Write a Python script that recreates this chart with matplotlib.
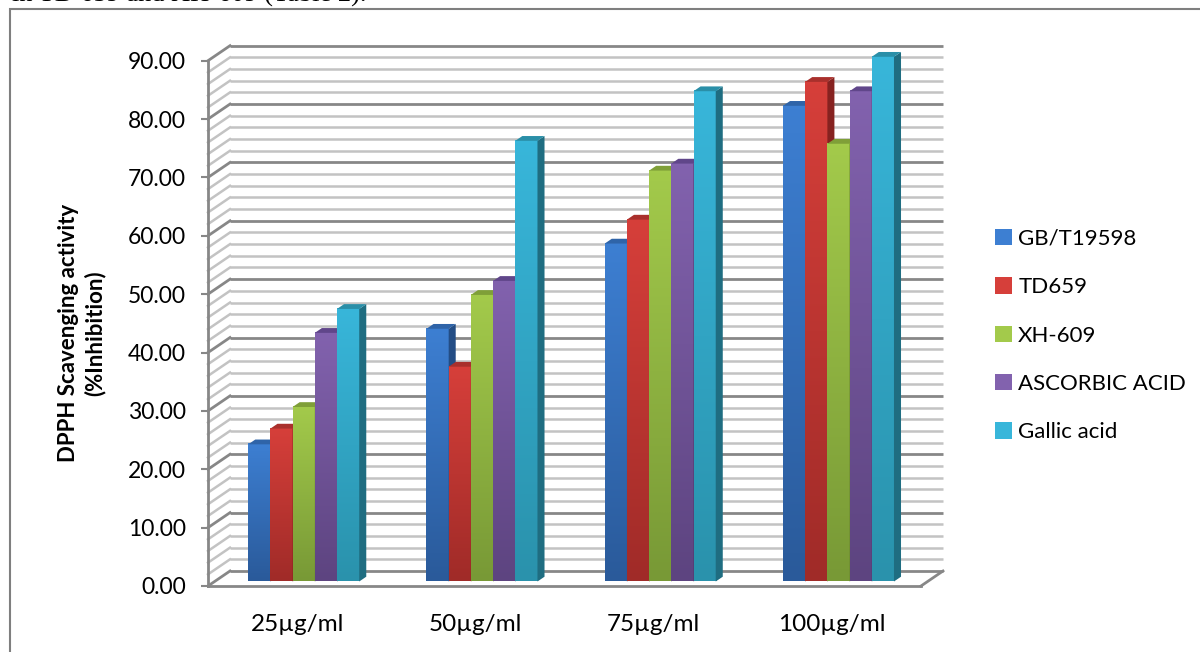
import numpy as np
import matplotlib.pyplot as plt
from matplotlib.patches import Polygon, Rectangle, Patch
from matplotlib.colors import LinearSegmentedColormap
from matplotlib.transforms import offset_copy

# DPPH radical scavenging, % inhibition per concentration
categories = ['25µg/ml', '50µg/ml', '75µg/ml', '100µg/ml']
series = ['GB/T19598', 'TD659', 'XH-609', 'ASCORBIC ACID', 'Gallic acid']
gbt19598 = [23.5, 43.3, 57.9, 81.5]
td659 = [26.2, 36.8, 62.0, 85.6]
xh609 = [29.9, 49.1, 70.4, 75.0]
ascorbic = [42.6, 51.5, 71.6, 84.0]
gallic = [46.7, 75.5, 84.0, 89.9]
yticks = np.arange(0, 91, 10)
values = [gbt19598, td659, xh609, ascorbic, gallic]

# (front light, front dark, side, top)
colors = [
    ('#3d7fd2', '#2a5a9a', '#234d85', '#2f64a8'),
    ('#d63f3a', '#a02b28', '#862220', '#a9302c'),
    ('#a3ca4b', '#789936', '#66842c', '#7f9f38'),
    ('#8262ae', '#5d4480', '#4d3869', '#60468a'),
    ('#38b6da', '#2a92ac', '#1f6d81', '#2a8fa8'),
]

FONT = 'Lato'
W, H = 1200, 652
fig = plt.figure(figsize=(W / 100, H / 100), dpi=100)
ax = fig.add_axes([208 / W, (H - 586) / H, 713 / W, (586 - 60.7) / H])
ax.set_xlim(-0.5, 3.5)
ax.set_ylim(0, 90)
ax.patch.set_alpha(0)

# depth of the box, pixels -> data units
DX, DY = 22, 15
px_x = 713 / 4
px_y = (586 - 60.7) / 90
ddx, ddy = DX / px_x, DY / px_y

# back wall and left wall gridlines
for v in np.arange(0, 91, 2):
    major = v % 10 == 0
    c = '#878787' if major else '#c3c3c3'
    lw = 2.0 if major else 1.8
    ax.plot([-0.5 + ddx, 3.5 + ddx], [v + ddy] * 2, color=c, lw=lw,
            clip_on=False, zorder=1, solid_capstyle='butt')
    ax.plot([-0.5, -0.5 + ddx], [v, v + ddy], color=c, lw=lw,
            clip_on=False, zorder=1)
# floor right edge
ax.plot([3.5, 3.5 + ddx], [0, ddy], color='#878787', lw=2.0, clip_on=False, zorder=1)

# bars: gradient front face, flat side and top faces
front_tf = offset_copy(ax.transData, fig=fig, x=0.3 * DX, y=0.3 * DY, units='dots')
w = 22.2 / px_x
bdx, bdy = 0.32 * ddx, 0.32 * ddy
grad = np.linspace(0, 1, 128)[:, None]
xs = np.arange(len(categories))
for i, (vals, col) in enumerate(zip(values, colors)):
    light, dark, side, top = col
    cmap = LinearSegmentedColormap.from_list('b%d' % i, [dark, light])
    for j, v in enumerate(vals):
        x0 = xs[j] + (i - 2.5) * w
        z = 3 + i
        ax.imshow(grad, cmap=cmap, origin='lower', aspect='auto',
                  extent=(x0, x0 + w, 0, v), transform=front_tf,
                  interpolation='bilinear', zorder=z, clip_on=False)
        ax.add_patch(Polygon([(x0 + w, 0), (x0 + w, v), (x0 + w + bdx, v + bdy),
                              (x0 + w + bdx, bdy)], closed=True, fc=side, ec='none',
                             transform=front_tf, zorder=z, clip_on=False))
        ax.add_patch(Polygon([(x0, v), (x0 + w, v), (x0 + w + bdx, v + bdy),
                              (x0 + bdx, v + bdy)], closed=True, fc=top, ec='none',
                             transform=front_tf, zorder=z, clip_on=False))

ax.set_xlim(-0.5, 3.5)
ax.set_ylim(0, 90)

for s in ['top', 'right']:
    ax.spines[s].set_visible(False)
for s in ['left', 'bottom']:
    ax.spines[s].set_color('#878787')
    ax.spines[s].set_linewidth(2.0)
    ax.spines[s].set_zorder(2)

ax.set_yticks(yticks)
ax.set_yticklabels(['%.2f' % t for t in yticks], fontfamily=FONT, fontsize=16.5)
ax.tick_params(axis='y', length=5, width=1.5, color='#878787', pad=11)
ax.set_xticks(xs)
ax.set_xticklabels(categories, fontfamily=FONT, fontsize=17.5)
ax.tick_params(axis='x', length=0, pad=20)

fig.text(82 / W, 1 - 333 / H, 'DPPH Scavenging activity\n(%Inhibition)',
         rotation=90, ha='center', va='center', fontfamily=FONT,
         fontweight='bold', fontsize=16, linespacing=1.25)

handles = [Patch(facecolor=c[0], edgecolor='none') for c in colors]
fig.legend(handles, series, loc='upper left', bbox_to_anchor=(986 / W, 1 - 220 / H),
           frameon=False, prop={'family': FONT, 'size': 16},
           handlelength=0.75, handleheight=0.75, handletextpad=0.3,
           labelspacing=1.275, borderaxespad=0)

# surrounding frame and the line of body text above it
fig.add_artist(Rectangle((10 / W, -0.1), 1.2, (H - 9) / H + 0.1,
                         transform=fig.transFigure, fill=False,
                         ec='#7f7f7f', lw=1.5))
fig.text(12 / W, 1 - 2 / H, 'in TD 659 and XH-609 (Table 2).',
         fontfamily='Liberation Serif', fontsize=19, va='baseline', ha='left')

fig.savefig('out.png', dpi=100)
